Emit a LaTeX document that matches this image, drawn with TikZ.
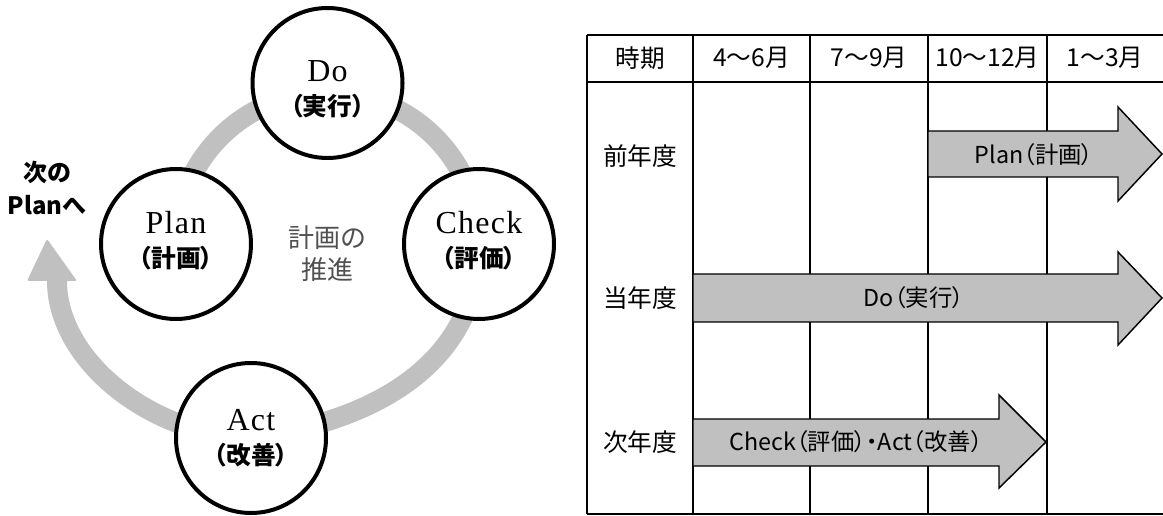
\documentclass[tikz,border=0pt]{standalone}
\usepackage{fontspec}
\setmainfont{Liberation Serif}
\newfontfamily\jp{Noto Sans CJK JP}
\newfontfamily\jpp[RawFeature=+palt]{Noto Sans CJK JP}
\newfontfamily\lser[LetterSpace=4]{Liberation Serif}
\definecolor{ringgray}{RGB}{192,192,192}
\definecolor{textgray}{RGB}{80,80,80}
\begin{document}
\begin{tikzpicture}[x=0.75pt,y=-0.75pt,
  ring/.style={draw=ringgray, line width=15pt},
  pdca/.style={circle, draw=black, line width=3pt, fill=white, minimum size=112.5pt, inner sep=0pt},
  lat/.style={inner sep=0pt, font=\lser\fontsize{24}{26}\selectfont},
  jpc/.style={inner sep=0pt, font=\jpp\bfseries\fontsize{18.5}{22}\selectfont},
  ctr/.style={inner sep=0pt, text=textgray, font=\jp\fontsize{19.5}{22}\selectfont},
  nxt/.style={inner sep=0pt, font=\jp\bfseries\fontsize{18}{22}\selectfont},
  tline/.style={line width=1.5pt},
  hdr/.style={inner sep=0pt, font=\jp\fontsize{18.5}{22}\selectfont},
  barrow/.style={fill=ringgray, draw=black, line width=1.1pt, line join=miter},
  atext/.style={inner sep=0pt, font=\jpp\fontsize{17.5}{20}\selectfont},
]
\useasboundingbox (0,0) rectangle (1163,516);
\fill[white] (0,0) rectangle (1163,516);

% ---- PDCA cycle ----
\coordinate (pc) at (176,244);
\coordinate (cc) at (479,244);
\coordinate (dc) at (327.5,83);
\coordinate (ac) at (251,438);
\coordinate (nb) at (57,281);
\coordinate (nt) at (47,239);

\draw[ring] (pc) arc[start angle=180,end angle=360,radius=151.5];
\draw[ring] (cc) .. controls (479,335) and (415,415) .. (ac);
\draw[ring] (ac) .. controls (150,435) and (57,360) .. (nb);
\fill[ringgray, rounded corners=1.5pt] (27,281) -- (nt) -- (77,281) -- cycle;

\node[pdca] (do) at (dc) {};
\node[pdca] (plan) at (pc) {};
\node[pdca] (check) at (cc) {};
\node[pdca] (act) at (ac) {};

\node[lat] (doL) at (327.5,71) {Do};
\node[jpc] (doJ) at (327.5,106) {（実行）};
\node[lat] (planL) at (176,223) {Plan};
\node[jpc] (planJ) at (176,258) {（計画）};
\node[lat] (checkL) at (479,223) {Check};
\node[jpc] (checkJ) at (479,258) {（評価）};
\node[lat] (actL) at (251,420) {Act};
\node[jpc] (actJ) at (251,455) {（改善）};

\node[ctr] (c1) at (327,238) {計画の};
\node[ctr] (c2) at (327,270) {推進};

\node[nxt] (n1) at (47,172) {次の};
\node[nxt] (n2) at (47,205) {Planへ};

% ---- schedule table ----
\draw[tline] (587,35) -- (1163,35);
\draw[tline] (587,82) -- (1163,82);
\draw[tline] (587,514) -- (1163,514);
\foreach \x in {587,693,810,928,1047} \draw[tline] (\x,35) -- (\x,514);

\node[hdr] (h0) at (640,58) {時期};
\node[hdr] (h1) at (751.5,58) {4～6月};
\node[hdr] (h2) at (869,58) {7～9月};
\node[hdr] (h3) at (987.5,58) {10～12月};
\node[hdr] (h4) at (1105,58) {1～3月};

\node[hdr] (r1) at (640,156) {前年度};
\node[hdr] (r2) at (640,298) {当年度};
\node[hdr] (r3) at (640,442) {次年度};

\draw[barrow] (928,131) -- (1118,131) -- (1118,107) -- (1162,154) -- (1118,201) -- (1118,177) -- (928,177) -- cycle;
\draw[barrow] (693,274) -- (1118,274) -- (1118,252) -- (1162,298) -- (1118,345) -- (1118,322) -- (693,322) -- cycle;
\draw[barrow] (693,419) -- (999,419) -- (999,395) -- (1046,442) -- (999,488) -- (999,466) -- (693,466) -- cycle;

\node[atext] (a1) at (1034,155) {Plan（計画）};
\node[atext] (a2) at (914,298) {Do（実行）};
\node[atext] (a3) at (856,442) {Check（評価）・Act（改善）};
\end{tikzpicture}
\end{document}
